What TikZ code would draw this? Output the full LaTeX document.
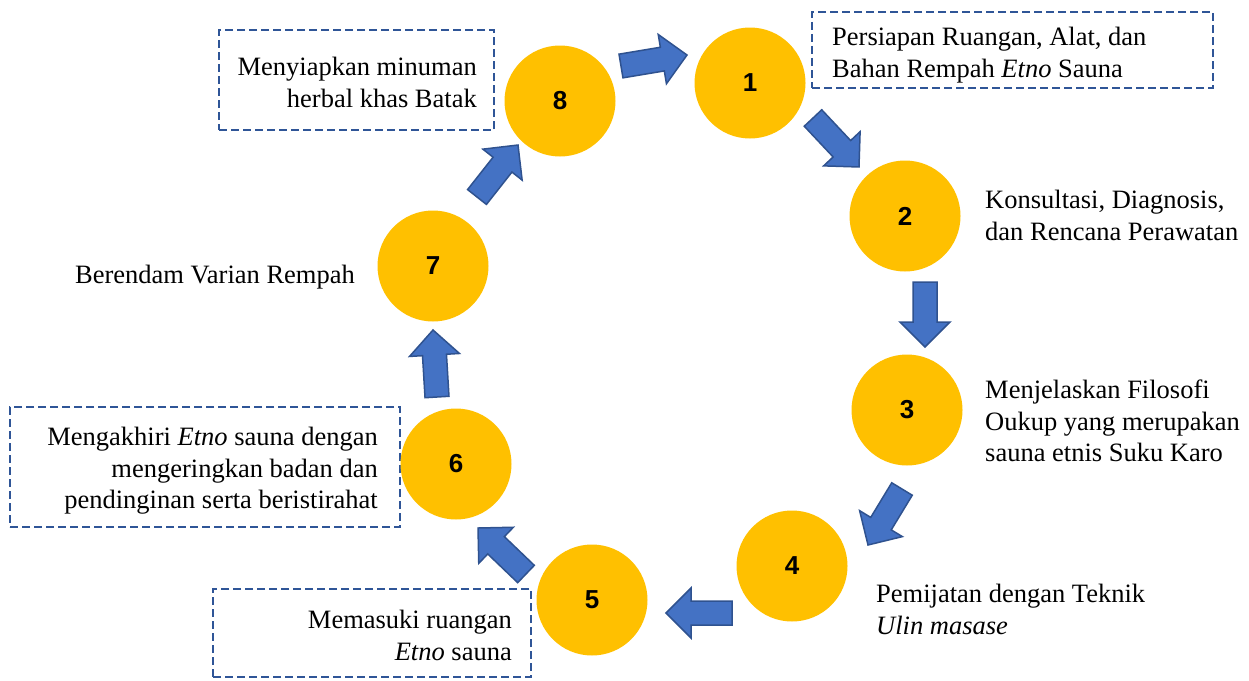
\documentclass[tikz,border=0pt]{standalone}
\usepackage{fontspec}
\setmainfont{Liberation Serif}
\newfontfamily\textserif{Liberation Serif}
\newfontfamily\numfont{Liberation Sans}
\usetikzlibrary{calc}

\definecolor{stepyellow}{HTML}{FFC000}
\definecolor{arrowfill}{HTML}{4472C4}
\definecolor{arrowline}{HTML}{2F528F}
\definecolor{boxline}{HTML}{2F5597}

\tikzset{
  stepcircle/.style={circle, fill=stepyellow, minimum size=111pt, inner sep=0pt,
    font=\numfont\bfseries\fontsize{26}{30}\selectfont},
  labeltext/.style={inner sep=0pt, font=\textserif\fontsize{26.5}{31.5}\selectfont},
  dashbox/.style={draw=boxline, line width=2pt, dash pattern=on 8pt off 4pt,
    inner sep=0pt},
  flowarrow/.style={fill=arrowfill, draw=arrowline, line width=1.5pt,
    line join=miter},
}

% block arrow from tail coordinate #1 to tip coordinate #2
\newcommand\blockarrow[2]{%
  \path let \p1=($(#2)-(#1)$) in
    \pgfextra{\pgfmathsetmacro\baang{atan2(\y1,\x1)}%
              \pgfmathsetmacro\balen{veclen(\x1,\y1)}%
              \xdef\barrowang{\baang}\xdef\barrowlen{\balen}};
  \draw[flowarrow, shift={(#1)}, rotate=\barrowang]
    (0pt,12pt) -- (\barrowlen pt-25pt,12pt) -- (\barrowlen pt-25pt,25pt)
    -- (\barrowlen pt,0pt) -- (\barrowlen pt-25pt,-25pt)
    -- (\barrowlen pt-25pt,-12pt) -- (0pt,-12pt) -- cycle;
}

\begin{document}
\begin{tikzpicture}[x=1pt, y=-1pt]
\useasboundingbox (0,0) rectangle (1249,680);

% dashed frames
\node[dashbox, minimum width=401pt, minimum height=76pt]  (b1) at (1012.5,50) {};
\node[dashbox, minimum width=275pt, minimum height=100pt] (b8) at (356.5,80) {};
\node[dashbox, minimum width=390pt, minimum height=120pt] (b6) at (205,467) {};
\node[dashbox, minimum width=318pt, minimum height=88pt]  (b5) at (372,633) {};

% steps
\node[stepcircle] (c1) at (750,83)  {1};
\node[stepcircle] (c2) at (905,216) {2};
\node[stepcircle] (c3) at (907,410) {3};
\node[stepcircle] (c4) at (792,566) {4};
\node[stepcircle] (c5) at (592,600) {5};
\node[stepcircle] (c6) at (456,464) {6};
\node[stepcircle] (c7) at (433,266) {7};
\node[stepcircle] (c8) at (560,101) {8};

% descriptions
\node[labeltext, anchor=north west, align=left] (l1) at (832,27)
  {Persiapan Ruangan, Alat, dan\\Bahan Rempah \textit{Etno} Sauna};
\node[labeltext, anchor=north west, align=left] (l2) at (985,190)
  {Konsultasi, Diagnosis,\\dan Rencana Perawatan};
\node[labeltext, anchor=north west, align=left] (l3) at (985,380)
  {Menjelaskan Filosofi\\Oukup yang merupakan\\sauna etnis Suku Karo};
\node[labeltext, anchor=north west, align=left] (l4) at (876,584)
  {Pemijatan dengan Teknik\\\textit{Ulin masase}};
\node[labeltext, anchor=north east, align=right] (l5) at (512,610)
  {Memasuki ruangan\\\textit{Etno} sauna};
\node[labeltext, anchor=north east, align=right] (l6) at (378,427)
  {Mengakhiri \textit{Etno} sauna dengan\\mengeringkan badan dan\\pendinginan serta beristirahat};
\node[labeltext, anchor=north east, align=right] (l7) at (355,265)
  {Berendam Varian Rempah};
\node[labeltext, anchor=north east, align=right] (l8) at (477,57)
  {Menyiapkan minuman\\herbal khas Batak};

% arrow ends
\coordinate (a81s) at (621,66);  \coordinate (a81e) at (687,55);
\coordinate (a12s) at (813,118); \coordinate (a12e) at (859,167);
\coordinate (a23s) at (925,282); \coordinate (a23e) at (925,347);
\coordinate (a34s) at (902,489); \coordinate (a34e) at (868,545);
\coordinate (a45s) at (732,613); \coordinate (a45e) at (666,613);
\coordinate (a56s) at (526,574); \coordinate (a56e) at (478,528);
\coordinate (a67s) at (437,397); \coordinate (a67e) at (433,330);
\coordinate (a78s) at (477,197); \coordinate (a78e) at (518,145);

\blockarrow{a81s}{a81e}
\blockarrow{a12s}{a12e}
\blockarrow{a23s}{a23e}
\blockarrow{a34s}{a34e}
\blockarrow{a45s}{a45e}
\blockarrow{a56s}{a56e}
\blockarrow{a67s}{a67e}
\blockarrow{a78s}{a78e}
\end{tikzpicture}
\end{document}
